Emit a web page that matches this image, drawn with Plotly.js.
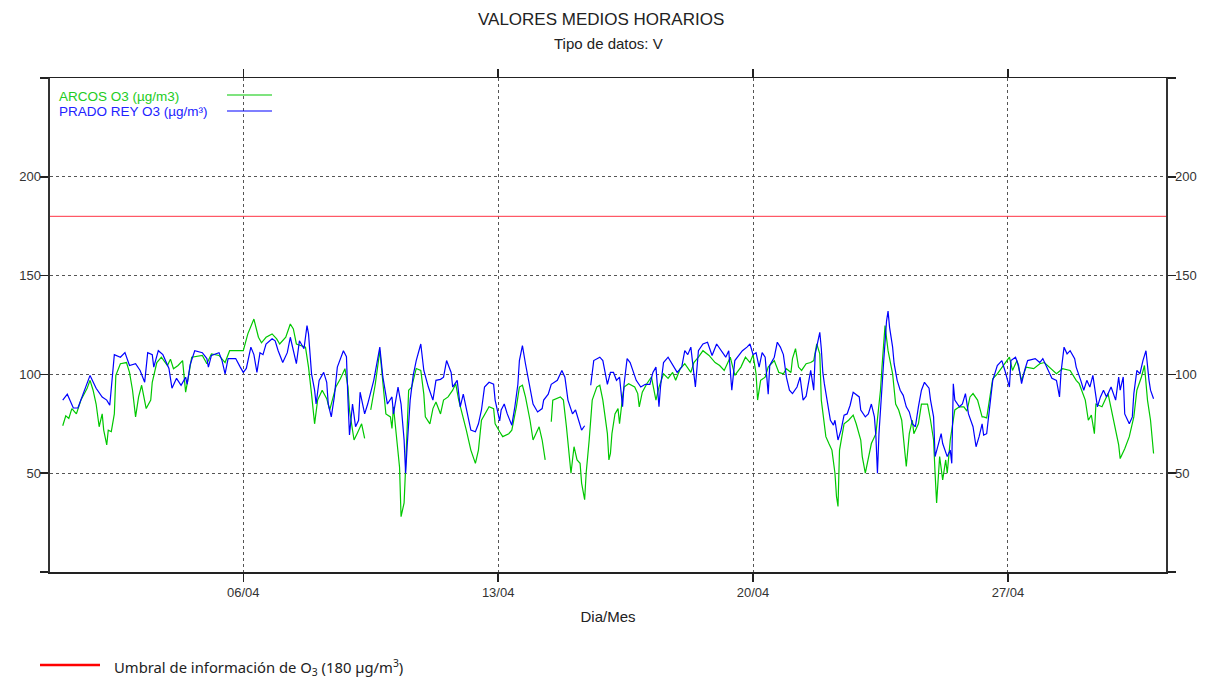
<!DOCTYPE html>
<html>
<head>
<meta charset="utf-8">
<script src="https://cdn.plot.ly/plotly-3.0.1.min.js"></script>
<style>html,body{margin:0;padding:0;background:#fff;}#chart{width:1207px;height:679px;}</style>
</head>
<body>
<div id="chart"></div>
<script>
// Hours since 01/04 00:00 and hourly O3 values (µg/m3)
const arcosHours = [1,3,5,7,10,13,17,19,21,23,25,27,28,30,31,33,35,36,39,43,45,47,49,51,53,56,59,60,63,66,70,72,74,77,80,82,84,86,93,96,99,104,108,111,118,120,123,127,130,132,135,139,142,144,148,151,153,155,161,163,165,167,169,172,175,177,181,184,187,189,190,193,195,198,200,202,204,207,210,212,214,217,218,219,221,223,224,226,227,228,229,231,234,237,239,240,243,245,247,250,252,255,258,260,262,267,270,273,275,277,282,285,286,289,291,295,297,300,302,304,306,309,311,315,317,319,321,323,324,329,331,333,336,338,340,342,343,345,346,348,350,353,355,357,360,361,362,363,365,367,368,370,371,374,376,378,380,381,383,386,389,392,394,397,400,403,405,408,411,415,417,420,423,427,431,434,437,439,441,444,448,451,454,456,458,459,461,464,466,470,473,476,478,481,482,484,486,488,491,494,496,498,500,501,502,504,506,508,510,511,512,513,516,519,522,524,527,528,530,532,534,537,540,541,543,545,548,550,552,554,556,557,559,561,562,565,567,571,573,575,576,577,579,581,583,584,586,588,589,592,595,597,599,601,604,607,608,610,612,614,617,620,625,627,630,633,636,641,645,648,652,656,660,665,669,671,675,677,679,681,682,686,690,695,697,698,701,704,707,709,712,714,716,718,720];
const arcosO3 = [74,79,77.7,82.7,80,87,92.8,97,92,85,73.5,80,71.8,64.3,71.8,71,80,99.5,105.4,106,101,92,78.5,88.6,94.5,82.7,87,96,106,108.7,104.5,107.7,102.9,104.5,107,91,99.5,108.7,109.6,105.4,110.4,109.6,106,112,112,112,120.5,128,118.8,116,118.8,120.5,118,115.4,118.8,125.5,123,115.4,113.8,103.7,90,75,87,92,87.7,82,93.6,97.8,102.9,93.6,82,66.8,70,75,67.6,null,82,95,112,97,80,78.5,72.6,83.6,70,53,28,35,53,70,92,93.6,103,102,90,78.5,75,82.7,86,80,87,88.6,92,95.3,87,71.8,61.7,55,61.7,76.8,83.6,82.7,75,71,68.5,70,71.8,83.6,93.6,94.5,88.6,76.8,66.8,73.5,66.8,56.7,null,76,87,88.6,87,73.5,50,63.4,56.7,55,45,36.6,50,66.8,87,93.6,94.5,87,70,56.7,60,70,80,82.7,75,88.6,93.6,95.3,94.5,93.6,90.3,83.6,91,95.3,98.7,87,93.6,100.3,98,101,97,102.9,105.4,101,106,108.7,112,109.6,106,104.5,102,105.4,108.7,99.5,103.7,108.7,106,110,100.3,87,97,98.6,103.7,107,101,100.3,102.9,101,108,113,103.7,102,105.4,106,107,115.4,110.4,87,80,68.5,65,61.7,50,38.3,33.2,61.7,75,76.8,79.4,75,66.8,58.4,50,56.7,65,70,92,103.7,124.7,112,100.3,85,82,76.8,61.7,53.4,70,76.8,70,75,85,85,76.8,66.8,50,34.9,58.4,46.6,56.7,50,66.8,78.5,82,83.6,83.6,81.4,88.6,90.3,87,78.5,78.5,78,88.6,97.8,100.3,103.7,108.7,102,107,97,103.7,102.9,105.4,106,102.9,100.3,102.9,102,97,95.3,87,76.8,79.4,70,85,83.6,90.3,72.6,64.3,57.4,62.4,68.5,78.5,92,98.7,104.5,87,76.8,60];

const pradoHours = [1,4,8,11,19,23,27,30,32,35,39,42,45,49,52,55,57,60,61,64,67,71,73,76,79,82,83,85,88,93,96,97,99,104,106,108,110,115,118,120,122,125,127,129,131,133,135,139,141,143,146,149,151,155,157,160,162,163,165,167,168,170,173,175,176,178,180,182,186,188,189,190,192,194,196,197,200,202,206,210,212,215,218,219,222,224,226,227,228,230,232,234,237,239,242,245,247,250,252,254,257,258,261,263,265,267,270,273,275,277,279,282,285,286,289,290,292,294,297,299,301,302,304,306,308,311,314,317,318,321,323,327,330,332,334,337,339,341,343,345,347,349,351,355,357,360,362,364,366,368,370,371,373,375,377,379,382,385,388,390,392,394,395,397,400,402,406,409,411,413,415,417,418,420,423,426,429,432,436,438,440,442,444,447,449,452,454,456,458,460,462,464,466,467,470,472,474,476,478,480,482,485,487,489,491,494,496,497,500,501,502,503,505,507,509,510,512,514,516,518,520,522,526,527,530,532,534,536,537,538,539,541,542,544,545,546,548,549,551,553,555,557,559,561,563,565,567,569,572,573,575,576,578,580,581,584,586,587,588,589,592,594,596,598,601,603,605,607,608,610,612,614,617,620,622,625,626,629,631,633,635,637,642,645,647,649,653,656,658,659,661,663,665,668,669,672,674,676,678,680,683,685,687,689,692,695,697,698,700,701,704,706,707,709,711,713,715,717,718,720];
const pradoO3 = [87,90,83,83,99.5,93,88.5,87,84.4,110,108.7,111,104.5,105.4,102,96,111,110,103.7,112,110,103,93,98,94.5,98.6,95,105,112,111,108,103.7,109.6,111,107,100.3,108,108,103.7,101,103,113.8,110,101,111,110,115.4,118,117,112,106,111,118.8,105.4,117,113,124.7,120.5,100.3,92,85,97,101,96,85,78.5,88.6,103.7,112,109,87,69.3,85,73.5,76.8,91,80,85,97,113.8,98.7,85,88.6,80,93.6,85,66.8,50,63.4,87,99.5,107,115.4,102,93.6,87,97,97.5,98.6,107,101,93.6,97,83.6,90,82,71.8,71,75,82,93.6,96,95,87,76.5,82,85,80,74.3,83.6,95,107,114.6,105.4,97,85,81,82.7,87,90,95,97,102,98.6,87,80,82,76.8,71.8,74,null,94.5,107,108.7,107,95,101,101,97,98.6,83.6,95,108,106,102,97,93.6,95,95,101,103.7,83.6,93.6,106,108.7,106,101,103.7,112,110,113.8,100.3,93.6,112,115.4,116.3,109.6,115.4,111,108.7,112,92,107,110,112,113.8,115.4,110,111,103.7,111,108.7,90,104.5,108.7,116.3,113.8,110,98.6,92,90.3,93.6,98.6,87,89,102,92,110.4,121.3,113,101,95.3,87,76.8,74.3,76.8,66.8,71.8,79.4,80,84.4,91,88.6,82,78.5,80,85,78.5,68.5,50,70,90.3,105.4,127,132,123.8,113.8,105.4,97,92,89.4,83.6,81,75,73.5,83.6,92,96,93,87,78.5,58.4,65,70,65,58.4,61.7,55,95.3,87,83.6,85,90.3,80,73.5,63.4,68.5,75,69.3,70,83.6,97,104.5,107,102,93.6,107,108.7,104.5,95.3,102,107,108,106,108,104.5,98,97,88.6,101,113.8,110.4,112,108,103.7,97,92,97,93.6,99.5,83.6,88.6,92,88.6,93.6,87,98.7,92,98.7,80,75,78.5,90.3,102,100.3,107,112,97,92,87.7];

const yTickMarks = [0,50,100,150,200,250];
const yLabelVals = [50,100,150,200];
const threshold = 180;
const seriesNames = ['ARCOS O3 (µg/m3)','PRADO REY O3 (µg/m³)'];

const base = Date.UTC(2024,3,1,0,0,0);
function toDate(h){ return new Date(base + h*3600000).toISOString().replace('T',' ').slice(0,19); }

const GREEN = '#00c800', BLUE = '#0000ff';
const FONT = 'Liberation Sans, Arial, sans-serif';

const traces = [
  {x: arcosHours.map(toDate), y: arcosO3, type:'scatter', mode:'lines', name: seriesNames[0],
   line:{color:GREEN, width:1.2}, connectgaps:false, showlegend:false, hoverinfo:'x+y'},
  {x: pradoHours.map(toDate), y: pradoO3, type:'scatter', mode:'lines', name: seriesNames[1],
   line:{color:BLUE, width:1.2}, connectgaps:false, showlegend:false, hoverinfo:'x+y'},
  {x: [toDate(0)], y: [null], yaxis:'y2', type:'scatter', mode:'lines', showlegend:false, hoverinfo:'skip'},
  {x: [toDate(0)], y: [null], yaxis:'y3', type:'scatter', mode:'lines', showlegend:false, hoverinfo:'skip'}
];

const labelAxis = (side) => ({
  overlaying:'y', side:side, range:[0,250], tickmode:'array', tickvals:yLabelVals,
  ticks:'', showline:false, showgrid:false, zeroline:false, ticklabelstandoff:8,
  tickfont:{family:FONT, size:13, color:'#333'}
});

const layout = {
  width:1207, height:679,
  margin:{l:50, r:41, t:78, b:107},
  paper_bgcolor:'#fff', plot_bgcolor:'#fff',
  font:{family:FONT, size:13, color:'#222'},
  showlegend:false,
  xaxis:{
    type:'date',
    range:['2024-03-31 16:36','2024-05-01 08:12'],
    tick0:'2024-04-06', dtick:7*86400000, tickformat:'%d/%m',
    ticks:'outside', ticklen:8, tickcolor:'#222', tickwidth:1.5,
    showline:true, linecolor:'#222', linewidth:1.5, mirror:'ticks',
    showgrid:true, gridcolor:'#555', griddash:'3px,3px', gridwidth:1,
    zeroline:false,
    tickfont:{family:FONT, size:13, color:'#333'},
    title:{text:'Dia/Mes', font:{family:FONT, size:15, color:'#222'}, standoff:12}
  },
  yaxis:{
    range:[0,250], tickmode:'array', tickvals:yTickMarks, showticklabels:false,
    ticks:'outside', ticklen:8, tickcolor:'#222', tickwidth:1.5,
    showline:true, linecolor:'#333', linewidth:2, mirror:'ticks',
    showgrid:true, gridcolor:'#555', griddash:'3px,3px', gridwidth:1,
    zeroline:false
  },
  yaxis2: labelAxis('right'),
  yaxis3: labelAxis('left'),
  shapes:[
    {type:'line', xref:'paper', x0:0, x1:1, yref:'y', y0:threshold, y1:threshold, line:{color:'#ff3344', width:1}},
    {type:'line', xref:'paper', yref:'paper', x0:(227-50)/1116, x1:(272-50)/1116, y0:(572-95)/494, y1:(572-95)/494, line:{color:GREEN, width:1.2}},
    {type:'line', xref:'paper', yref:'paper', x0:(227-50)/1116, x1:(272-50)/1116, y0:(572-111)/494, y1:(572-111)/494, line:{color:BLUE, width:1.2}},
    {type:'line', xref:'paper', yref:'paper', x0:(40-50)/1116, x1:(100-50)/1116, y0:-(665-572)/494, y1:-(665-572)/494, line:{color:'#ff0000', width:2.5}}
  ],
  annotations:[
    {text:'VALORES MEDIOS HORARIOS', xref:'paper', yref:'paper', x:(601-50)/1116, y:(572-20)/494, xanchor:'center', yanchor:'middle', showarrow:false, font:{family:FONT, size:17, color:'#222'}},
    {text:'Tipo de datos: V', xref:'paper', yref:'paper', x:(608-50)/1116, y:(572-43)/494, xanchor:'center', yanchor:'middle', showarrow:false, font:{family:FONT, size:15, color:'#222'}},
    {text:seriesNames[0], xref:'paper', yref:'paper', x:(57-50)/1116, y:(572-96)/494, xanchor:'left', yanchor:'middle', showarrow:false, font:{family:FONT, size:13.5, color:'#22cc22'}},
    {text:seriesNames[1], xref:'paper', yref:'paper', x:(57-50)/1116, y:(572-111)/494, xanchor:'left', yanchor:'middle', showarrow:false, font:{family:FONT, size:13.5, color:'#2222ff'}},
    {text:'Umbral de información de O<sub>3</sub> (180 µg/m<sup>3</sup>)', xref:'paper', yref:'paper', x:(112-50)/1116, y:-(667-572)/494, xanchor:'left', yanchor:'middle', showarrow:false, font:{family:'Noto Sans, sans-serif', size:14.8, color:'#222'}}
  ]
};

Plotly.newPlot('chart', traces, layout, {displayModeBar:false, staticPlot:true});
</script>
</body>
</html>
